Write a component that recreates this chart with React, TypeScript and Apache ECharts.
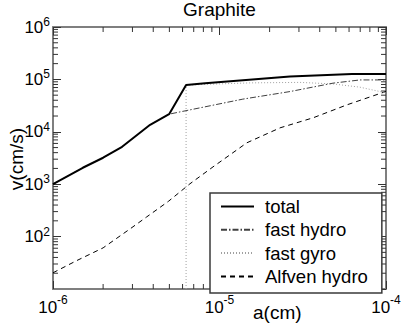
import React, { useEffect, useRef } from "react";
import * as echarts from "echarts";

const FONT = "'Liberation Sans', Arial, Helvetica, sans-serif";

const xMin = 1e-6;
const xMax = 1e-4;
const yMin = 10;
const yMax = 1e6;
const minorMultipliers = [2, 3, 4, 5, 6, 7, 8, 9];
const xDecades = [1e-6, 1e-5];
const yDecades = [1e1, 1e2, 1e3, 1e4, 1e5];

const seriesNames = ["total", "fast hydro", "fast gyro", "Alfven hydro"];

const totalA = [1e-6, 1.51e-6, 2.0e-6, 2.6e-6, 3.83e-6, 4.98e-6, 6.3e-6, 8.2e-6, 2.65e-5, 6.25e-5, 1e-4];
const totalV = [1000, 2060, 3200, 5170, 13600, 21700, 78500, 84700, 113000, 127000, 127000];

const fastHydroA = [1e-6, 1.51e-6, 2.0e-6, 2.6e-6, 3.83e-6, 4.98e-6, 5.8e-6, 1.38e-5, 2.65e-5, 4.81e-5, 6.98e-5, 1e-4];
const fastHydroV = [1000, 2060, 3200, 5170, 13600, 21700, 24000, 42000, 58600, 84800, 97700, 97700];

const fastGyroA = [6.3e-6, 6.3e-6, 1.52e-5, 3.04e-5, 4.81e-5, 6.98e-5, 1e-4];
const fastGyroV = [10, 78000, 85800, 87700, 82000, 71000, 55300];

const alfvenA = [1e-6, 1.39e-6, 2.0e-6, 2.9e-6, 3.65e-6, 4.93e-6, 6.65e-6, 9.14e-6, 1.46e-5, 2.31e-5, 3.65e-5, 5.83e-5, 1e-4];
const alfvenV = [20.4, 34.9, 61, 140, 237, 470, 1020, 2140, 6170, 11900, 18500, 32700, 58900];

const zip = (a: number[], b: number[]) => a.map((x, i) => [x, b[i]]);

const xMinorTicks: number[] = [];
xDecades.forEach((d) => minorMultipliers.forEach((m) => xMinorTicks.push(m * d)));
const yMinorTicks: number[] = [];
yDecades.forEach((d) => minorMultipliers.forEach((m) => yMinorTicks.push(m * d)));

const expLabel = (v: number) => {
  const e = Math.round(Math.log10(v));
  return `{b|10}{e|${e}}`;
};

const richY = {
  b: { fontFamily: FONT, fontSize: 17, color: "#000", lineHeight: 22 },
  e: { fontFamily: FONT, fontSize: 12, color: "#000", lineHeight: 12, verticalAlign: "top" },
};
const richX = {
  b: { fontFamily: FONT, fontSize: 17, color: "#000", lineHeight: 22, verticalAlign: "bottom" },
  e: { fontFamily: FONT, fontSize: 12, color: "#000", lineHeight: 12, padding: [0, 0, 15, 0], verticalAlign: "top" },
};

const axisLine = { show: true, onZero: false, lineStyle: { color: "#7f7f7f", width: 2 } };
const axisTick = { show: true, inside: true, length: 8, lineStyle: { color: "#333", width: 1 } };
const tickStyle = { stroke: "#333", lineWidth: 1 };

export default function App() {
  const ref = useRef<HTMLDivElement>(null);
  useEffect(() => {
    if (!ref.current) return;
    const chart = echarts.init(ref.current, undefined, { renderer: "svg" });
    const option: any = {
      animation: false,
      grid: { left: 53, top: 27, width: 333, height: 262, containLabel: false, outerBoundsMode: "none" },
      graphic: [
        {
          type: "text",
          x: 219.5,
          y: 0,
          style: { text: "Graphite", font: `19px ${FONT}`, fill: "#000", align: "center", verticalAlign: "top", textAlign: "center", textVerticalAlign: "top" },
        },
        {
          type: "text",
          x: 253,
          y: 312,
          style: { text: "a(cm)", font: `19px ${FONT}`, fill: "#000", align: "left", verticalAlign: "middle", textAlign: "left", textVerticalAlign: "middle" },
        },
        {
          type: "text",
          x: 16,
          y: 159,
          rotation: Math.PI / 2,
          style: { text: "v(cm/s)", font: `19px ${FONT}`, fill: "#000", align: "center", verticalAlign: "middle", textAlign: "center", textVerticalAlign: "middle" },
        },
      ],
      xAxis: [
        {
          type: "log", logBase: 10, min: xMin, max: xMax, position: "bottom",
          axisLine, axisTick, splitLine: { show: false },
          axisLabel: { formatter: expLabel, rich: richX, margin: 4.5, showMinLabel: true, showMaxLabel: true },
        },
        {
          type: "log", logBase: 10, min: xMin, max: xMax, position: "top",
          axisLine, axisTick, splitLine: { show: false }, axisLabel: { show: false },
        },
      ],
      yAxis: [
        {
          type: "log", logBase: 10, min: yMin, max: yMax, position: "left",
          axisLine, axisTick, splitLine: { show: false },
          axisLabel: { formatter: expLabel, rich: richY, margin: 3, showMinLabel: false, showMaxLabel: true },
        },
        {
          type: "log", logBase: 10, min: yMin, max: yMax, position: "right",
          axisLine, axisTick, splitLine: { show: false }, axisLabel: { show: false },
        },
      ],
      legend: {
        data: seriesNames,
        orient: "vertical",
        left: 210,
        top: 193,
        itemWidth: 33,
        itemHeight: 14,
        itemGap: 4.3,
        padding: [4, 14, 7, 10],
        backgroundColor: "#fff",
        borderColor: "#3a3a3a",
        borderWidth: 1.5,
        borderRadius: 0,
        selectedMode: false,
        itemStyle: { opacity: 0, color: "transparent", borderWidth: 0 },
        textStyle: { fontFamily: FONT, fontSize: 18.5, color: "#000", lineHeight: 18, padding: [0, 0, 0, 6] },
      },
      series: [
        {
          type: "custom", silent: true, z: 1, clip: false,
          data: xMinorTicks.map((v) => [v, yMin]),
          encode: { x: 0, y: 1 },
          renderItem: (_p: any, api: any) => {
            const v = api.value(0);
            const b = api.coord([v, yMin]);
            const t = api.coord([v, yMax]);
            return {
              type: "group",
              children: [
                { type: "line", shape: { x1: b[0], y1: b[1], x2: b[0], y2: b[1] - 5 }, style: tickStyle },
                { type: "line", shape: { x1: t[0], y1: t[1], x2: t[0], y2: t[1] + 5 }, style: tickStyle },
              ],
            };
          },
        },
        {
          type: "custom", silent: true, z: 1, clip: false,
          data: yMinorTicks.map((v) => [xMin, v]),
          encode: { x: 0, y: 1 },
          renderItem: (_p: any, api: any) => {
            const v = api.value(1);
            const l = api.coord([xMin, v]);
            const r = api.coord([xMax, v]);
            return {
              type: "group",
              children: [
                { type: "line", shape: { x1: l[0], y1: l[1], x2: l[0] + 5, y2: l[1] }, style: tickStyle },
                { type: "line", shape: { x1: r[0], y1: r[1], x2: r[0] - 5, y2: r[1] }, style: tickStyle },
              ],
            };
          },
        },
        {
          name: "Alfven hydro", type: "line", data: zip(alfvenA, alfvenV),
          symbol: "none", showSymbol: false, z: 2,
          lineStyle: { color: "#000", width: 1, type: [5, 4] }, itemStyle: { color: "#000" },
        },
        {
          name: "fast gyro", type: "line", data: zip(fastGyroA, fastGyroV),
          symbol: "none", showSymbol: false, z: 2,
          lineStyle: { color: "#a0a0a0", width: 1, type: [1, 2] }, itemStyle: { color: "#a0a0a0" },
        },
        {
          name: "fast hydro", type: "line", data: zip(fastHydroA, fastHydroV),
          symbol: "none", showSymbol: false, z: 2,
          lineStyle: { color: "#404040", width: 1, type: [6, 2, 1.5, 2] }, itemStyle: { color: "#404040" },
        },
        {
          name: "total", type: "line", data: zip(totalA, totalV),
          symbol: "none", showSymbol: false, z: 3,
          lineStyle: { color: "#000", width: 2 }, itemStyle: { color: "#000" },
        },
      ],
    };
    chart.setOption(option);
    return () => chart.dispose();
  }, []);
  return <div ref={ref} style={{ position: "absolute", left: 0, top: 0, width: 407, height: 324 }} />;
}
